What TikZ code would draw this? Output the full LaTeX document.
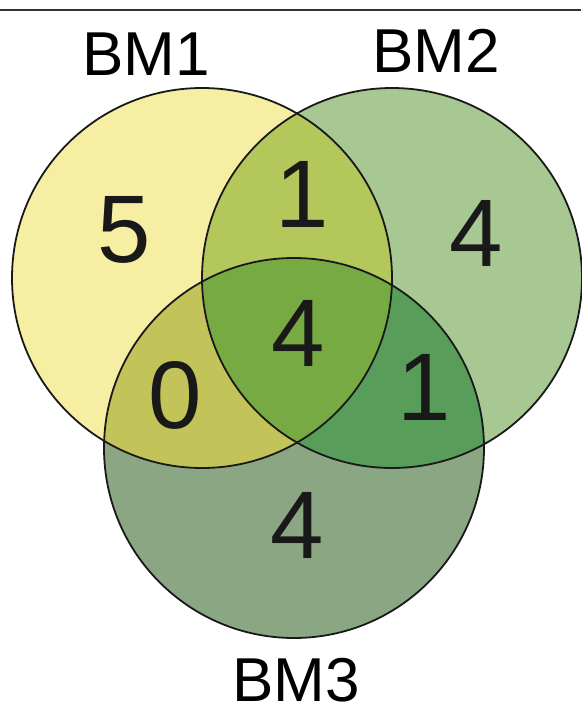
\documentclass[tikz,border=0pt]{standalone}
\usepackage{fontspec}
\setmainfont{Liberation Sans}
\usetikzlibrary{positioning}

\definecolor{bmA}{HTML}{F6EFA3}
\definecolor{bmB}{HTML}{A8C893}
\definecolor{bmC}{HTML}{8BA683}
\definecolor{bmAB}{HTML}{B3C75A}
\definecolor{bmAC}{HTML}{C2C45A}
\definecolor{bmBC}{HTML}{589E5A}
\definecolor{bmABC}{HTML}{77AA42}

\newcommand{\vennnum}{\fontsize{96}{96}\selectfont}
\newcommand{\vennlabel}{\fontsize{62}{62}\selectfont}
\newcommand{\rad}{190pt}

\begin{document}
\begin{tikzpicture}[x=1pt, y=-1pt,
		% Styles
		ring/.style={draw=black!90, line width=1.8pt},
		count/.style={font=\vennnum, inner sep=0pt, text=black!90},
		setlabel/.style={font=\vennlabel, inner sep=0pt, anchor=base},
		toprule/.style={line width=2.6pt, black!80},
		]

		\useasboundingbox (0,0) rectangle (581,709);

		% Top rule
		\coordinate (ruleL) at (0,10);
		\coordinate (ruleR) at (581,10);
		\draw[toprule] (ruleL) -- (ruleR);

		% Circle centres
		\coordinate (cA) at (202,278);
		\coordinate (cB) at (392,278);
		\coordinate (cC) at (294,448);

		% Single sets
		\fill[bmA] (cA) circle (\rad);
		\fill[bmB] (cB) circle (\rad);
		\fill[bmC] (cC) circle (\rad);

		% Pairwise overlaps
		\begin{scope}
			\clip (cA) circle (\rad);
			\fill[bmAB] (cB) circle (\rad);
			\fill[bmAC] (cC) circle (\rad);
		\end{scope}
		\begin{scope}
			\clip (cB) circle (\rad);
			\fill[bmBC] (cC) circle (\rad);
		\end{scope}

		% Triple overlap
		\begin{scope}
			\clip (cA) circle (\rad);
			\clip (cB) circle (\rad);
			\fill[bmABC] (cC) circle (\rad);
		\end{scope}

		% Outlines
		\draw[ring] (cA) circle (\rad);
		\draw[ring] (cB) circle (\rad);
		\draw[ring] (cC) circle (\rad);

		% Counts
		\node[count] (onlyA) at (124,230) {5};
		\node[count] (onlyB) at (476,233) {4};
		\node[count] (onlyC) at (297,525) {4};
		\node[count] (nAB) at (302,194) {1};
		\node[count] (nAC) at (175,395) {0};
		\node[count] (nBC) at (424,387) {1};
		\node[count] (nABC) at (298,333) {4};

		% Set labels
		\node[setlabel] (labA) at (146,75) {BM1};
		\node[setlabel] (labB) at (436,72) {BM2};
		\node[setlabel] (labC) at (296,701) {BM3};

	\end{tikzpicture}
\end{document}
